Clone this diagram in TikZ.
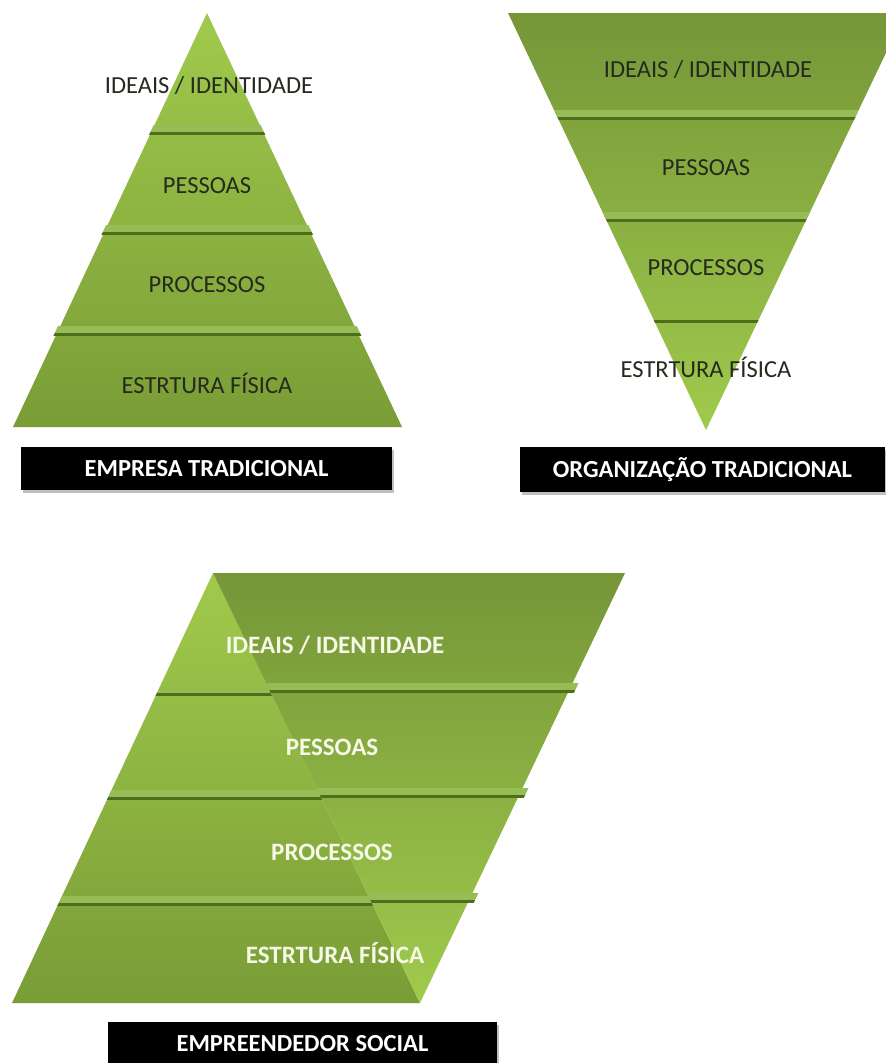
\documentclass[tikz,border=0pt]{standalone}
\usepackage{fontspec}
\setmainfont{Carlito}
\usetikzlibrary{shadows}
\definecolor{gLight}{RGB}{160,202,76}
\definecolor{gDark}{RGB}{122,156,54}
\definecolor{gOlive}{RGB}{118,150,56}
\definecolor{gBand}{RGB}{150,188,86}
\definecolor{gLine}{RGB}{78,110,30}
\definecolor{txtDark}{RGB}{38,42,30}
\definecolor{txtLight}{RGB}{246,248,232}
\tikzset{
  lvl/.style={font=\fontsize{24.5}{28}\selectfont, text=txtDark, inner sep=0pt},
  lvlw/.style={font=\fontsize{25}{29}\selectfont\bfseries, text=txtLight, inner sep=0pt},
  lbl/.style={fill=black, text=white, font=\fontsize{24.5}{28}\selectfont\bfseries, inner sep=0pt,
    drop shadow={shadow xshift=2pt, shadow yshift=-3pt, fill=black, opacity=0.25}},
  bandfill/.style={fill=gBand},
  linefill/.style={fill=gLine},
}
\newcommand\mydivider[3]{%
  \fill[bandfill] (#1,#3-7) rectangle (#2,#3);
  \fill[linefill] (#1,#3) rectangle (#2,#3+3);}
\begin{document}
\begin{tikzpicture}[x=1pt,y=-1pt]
\useasboundingbox (0,0) rectangle (886,1063);
\clip (0,0) rectangle (886,1063);
\fill[white] (0,0) rectangle (886,1063);

% ---------- top-left pyramid ----------
\shade[top color=gLight, bottom color=gDark] (207,13) -- (402,427) -- (13,427) -- cycle;
\begin{scope}
  \clip (207,13) -- (405,427) -- (10,427) -- cycle;
  \mydivider{0}{420}{132}
  \mydivider{0}{420}{232}
  \mydivider{0}{420}{333}
\end{scope}
\node[lvl] (a1) at (209,86)  {IDEAIS / IDENTIDADE};
\node[lvl] (a2) at (207,186) {PESSOAS};
\node[lvl] (a3) at (207,285) {PROCESSOS};
\node[lvl] (a4) at (207,383) {ESTRTURA FÍSICA};
\node[lbl, minimum width=371pt, minimum height=43pt] (la) at (206.5,468.5) {EMPRESA TRADICIONAL};

% ---------- top-right inverted pyramid ----------
\shade[top color=gOlive, bottom color=gLight] (508,13) -- (905,13) -- (706,430) -- cycle;
\begin{scope}
  \clip (508,13) -- (905,13) -- (706,430) -- cycle;
  \mydivider{480}{920}{117}
  \mydivider{480}{920}{219}
  \fill[linefill] (480,320) rectangle (920,323);
\end{scope}
\node[lvl] (b1) at (708,70)  {IDEAIS / IDENTIDADE};
\node[lvl] (b2) at (706,168) {PESSOAS};
\node[lvl] (b3) at (706,268) {PROCESSOS};
\node[lvl] (b4) at (706,367) {ESTRTURA FÍSICA};
\node[lbl, minimum width=365pt, minimum height=45pt] (lb) at (702.5,469.5) {ORGANIZAÇÃO TRADICIONAL};

% ---------- bottom combined figure ----------
% left (upright) triangle
\shade[top color=gLight, bottom color=gDark] (213,573) -- (420,1003) -- (12,1003) -- cycle;
\begin{scope}
  \clip (213,573) -- (420,1003) -- (12,1003) -- cycle;
  \fill[bandfill, opacity=0.5] (0,687) rectangle (440,693);
  \fill[linefill] (0,693) rectangle (440,696);
  \mydivider{0}{440}{797}
  \mydivider{0}{440}{903}
\end{scope}
% right (inverted) triangle
\shade[top color=gOlive, bottom color=gLight] (213,573) -- (625,573) -- (420,1003) -- cycle;
\begin{scope}
  \clip (213,573) -- (631,573) -- (426,1003) -- (420,1003) -- cycle;
  \mydivider{200}{640}{690}
  \mydivider{200}{640}{795}
  \mydivider{200}{640}{900}
\end{scope}
\node[lvlw] (c1) at (335,645) {IDEAIS / IDENTIDADE};
\node[lvlw] (c2) at (332,747) {PESSOAS};
\node[lvlw] (c3) at (332,852) {PROCESSOS};
\node[lvlw] (c4) at (335,953) {ESTRTURA FÍSICA};
\node[lbl, minimum width=389pt, minimum height=44pt] (lc) at (302.5,1044) {EMPREENDEDOR SOCIAL};
\end{tikzpicture}
\end{document}
